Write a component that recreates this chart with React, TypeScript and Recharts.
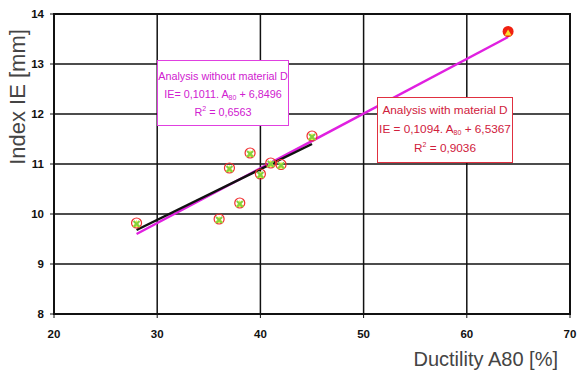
import {
  ScatterChart,
  Scatter,
  XAxis,
  YAxis,
  CartesianGrid,
  ReferenceArea,
} from "recharts";

// measured samples (A80 %, IE mm)
const ductility = [28, 36, 37, 38, 39, 40, 41, 42, 45];
const indexIE = [9.82, 9.9, 10.92, 10.22, 11.22, 10.8, 11.02, 10.99, 11.56];
// material D
const ductilityD = [64];
const indexD = [13.65];

// fitted lines, end points
const fitWithoutX = [28, 45];
const fitWithoutY = [9.68, 11.4];
const fitWithX = [28, 64];
const fitWithY = [9.6, 13.54];

const xTicks = [20, 30, 40, 50, 60, 70];
const yTicks = [8, 9, 10, 11, 12, 13, 14];

const points = ductility.map((x, i) => ({ x, y: indexIE[i] }));
const pointsD = ductilityD.map((x, i) => ({ x, y: indexD[i] }));
const lineWithout = fitWithoutX.map((x, i) => ({ x, y: fitWithoutY[i] }));
const lineWith = fitWithX.map((x, i) => ({ x, y: fitWithY[i] }));

const FONT = "'Liberation Sans', Arial, sans-serif";

const Marker = (props: any) => {
  const { cx, cy } = props;
  return (
    <g>
      <circle cx={cx} cy={cy} r={5} fill="none" stroke="#f03030" strokeWidth={1.2} />
      <path
        d={`M${cx - 4},${cy + 4} L${cx},${cy - 3} L${cx + 4},${cy + 4} Z`}
        fill="#f0f040"
      />
      <path
        d={`M${cx - 3},${cy - 2} L${cx + 3},${cy + 4} M${cx + 3},${cy - 2} L${cx - 3},${cy + 4}`}
        stroke="#80d040"
        strokeWidth={2}
      />
    </g>
  );
};

const MarkerD = (props: any) => {
  const { cx, cy } = props;
  return (
    <g>
      <circle cx={cx} cy={cy} r={5.5} fill="#f02010" />
      <path
        d={`M${cx - 3.5},${cy + 4} L${cx},${cy - 2} L${cx + 3.5},${cy + 4} Z`}
        fill="#f8e030"
      />
    </g>
  );
};

const NoShape = () => <g />;

const tickStyle = { fontFamily: FONT, fontSize: 11.5, fontWeight: 700, fill: "#111" };

const subStyle = { fontSize: 7, lineHeight: 0, verticalAlign: "-2px" };
const supStyle = { fontSize: 7, lineHeight: 0, verticalAlign: "5px" };

export default function App() {
  return (
    <div
      style={{
        position: "absolute",
        left: 0,
        top: 0,
        width: 578,
        height: 378,
        background: "white",
        fontFamily: FONT,
      }}
    >
      <ScatterChart
        width={578}
        height={378}
        margin={{ top: 14, right: 8, bottom: 34, left: 0 }}
      >
        <CartesianGrid stroke="#111" strokeWidth={1.5} />
        <XAxis
          type="number"
          dataKey="x"
          domain={[20, 70]}
          ticks={xTicks}
          height={30}
          tick={tickStyle}
          tickSize={4}
          tickMargin={12}
          stroke="#111"
          axisLine={{ stroke: "#111", strokeWidth: 2 }}
        />
        <YAxis
          type="number"
          dataKey="y"
          domain={[8, 14]}
          ticks={yTicks}
          width={54}
          tick={tickStyle}
          tickSize={4}
          tickMargin={6}
          stroke="#111"
          axisLine={{ stroke: "#111", strokeWidth: 2 }}
        />
        <ReferenceArea
          x1={20}
          x2={70}
          y1={8}
          y2={14}
          fill="none"
          fillOpacity={0}
          stroke="#111"
          strokeWidth={2}
          ifOverflow="visible"
        />
        <Scatter
          data={lineWith}
          line={{ stroke: "#e020e0", strokeWidth: 2.5 }}
          shape={NoShape}
          isAnimationActive={false}
        />
        <Scatter
          data={lineWithout}
          line={{ stroke: "#111", strokeWidth: 2.5 }}
          shape={NoShape}
          isAnimationActive={false}
        />
        <Scatter data={points} shape={Marker} isAnimationActive={false} />
        <Scatter data={pointsD} shape={MarkerD} isAnimationActive={false} />
      </ScatterChart>

      <div
        style={{
          position: "absolute",
          left: 157,
          top: 60,
          width: 132,
          height: 66,
          border: "1.5px solid #e040e0",
          background: "white",
          color: "#d020d0",
          fontSize: 10.8,
          textAlign: "center",
          lineHeight: "18px",
          paddingTop: 6,
          boxSizing: "border-box",
        }}
      >
        <div>Analysis without material D</div>
        <div>
          IE= 0,1011. A<span style={subStyle}>80</span> + 6,8496
        </div>
        <div>
          R<span style={supStyle}>2</span> = 0,6563
        </div>
      </div>

      <div
        style={{
          position: "absolute",
          left: 377,
          top: 97,
          width: 136,
          height: 66,
          border: "1.5px solid #e03040",
          background: "white",
          color: "#d0203c",
          fontSize: 11.8,
          textAlign: "center",
          lineHeight: "19px",
          paddingTop: 3,
          boxSizing: "border-box",
        }}
      >
        <div>Analysis with material D</div>
        <div>
          IE = 0,1094. A<span style={subStyle}>80</span> + 6,5367
        </div>
        <div>
          R<span style={supStyle}>2</span> = 0,9036
        </div>
      </div>

      <div
        style={{
          position: "absolute",
          left: 18,
          top: 97,
          transform: "translate(-50%, -50%) rotate(-90deg)",
          whiteSpace: "nowrap",
          fontSize: 22,
          color: "#444",
        }}
      >
        Index IE [mm]
      </div>

      <div
        style={{
          position: "absolute",
          right: 20,
          top: 348,
          whiteSpace: "nowrap",
          fontSize: 20,
          color: "#444",
        }}
      >
        Ductility A80 [%]
      </div>
    </div>
  );
}
